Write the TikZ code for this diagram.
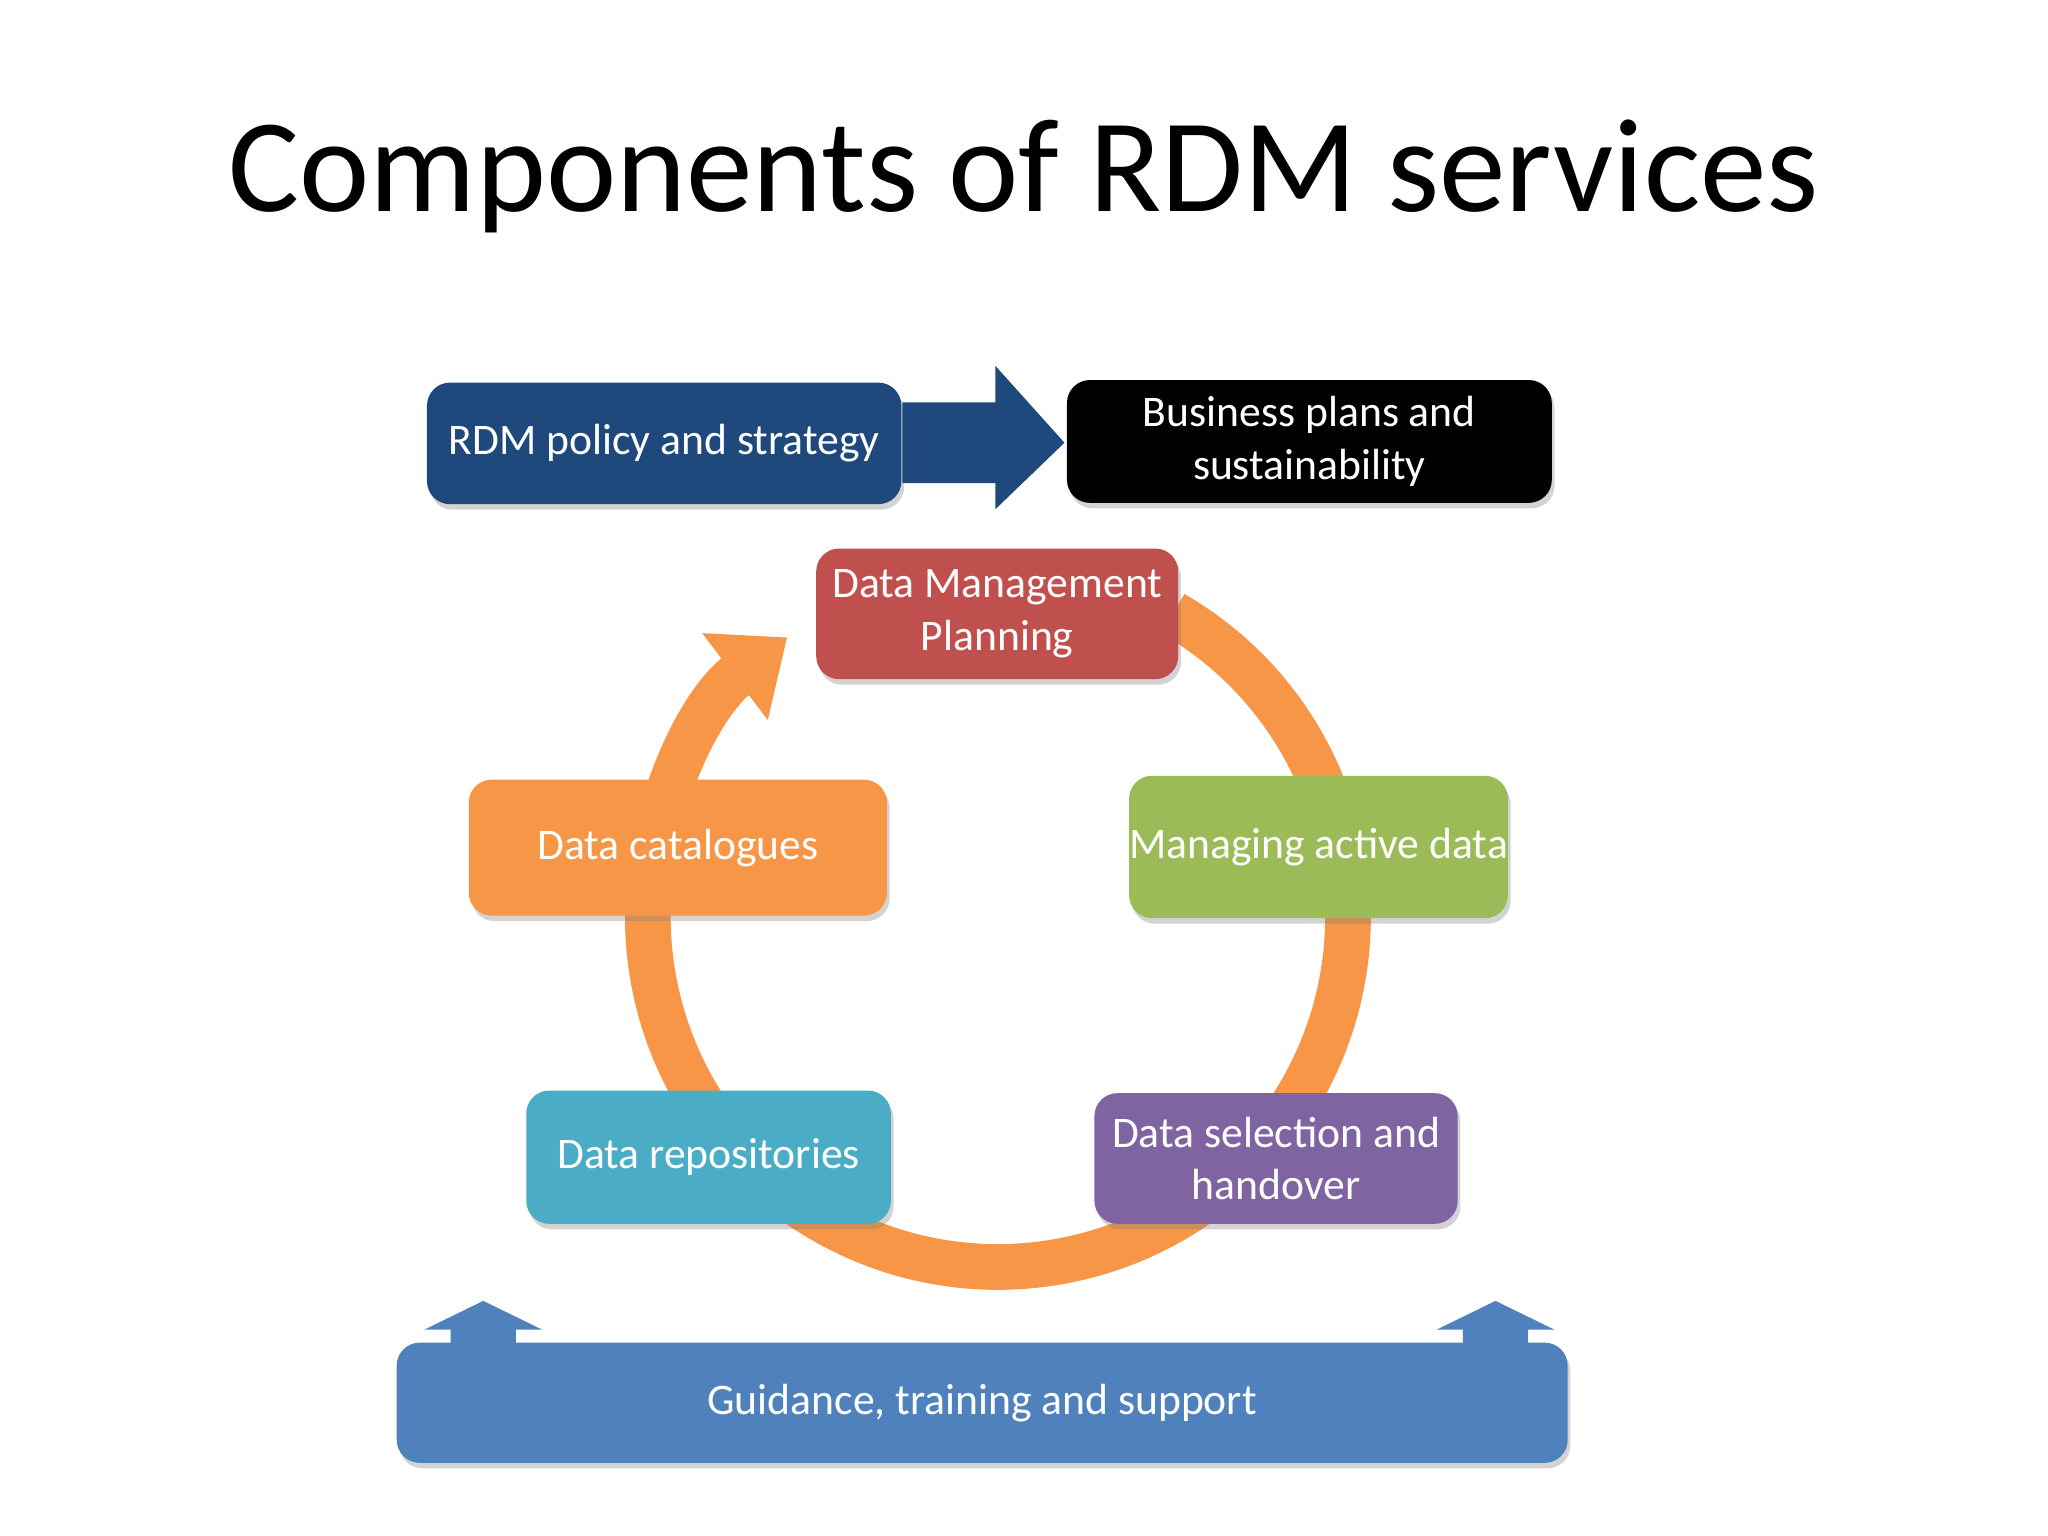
\documentclass[tikz,border=0pt]{standalone}
\usepackage{fontspec}
\setmainfont{Carlito}
\usetikzlibrary{arrows.meta,shadows}
\definecolor{navy}{HTML}{1F497D}
\definecolor{dmpred}{HTML}{C0504D}
\definecolor{actgreen}{HTML}{9BBB59}
\definecolor{catorange}{HTML}{F79646}
\definecolor{repoteal}{HTML}{4BACC6}
\definecolor{selpurple}{HTML}{8064A2}
\definecolor{guideblue}{HTML}{4F81BD}
\tikzset{
  box/.style={draw=none,rounded corners=5pt,text=white,align=center,
              font=\fontsize{9.5}{11.5}\selectfont,inner sep=0pt,
              drop shadow={shadow xshift=0.6pt,shadow yshift=-1.2pt,opacity=0.35}},
}
\begin{document}
\begin{tikzpicture}[x=0.01cm,y=0.01cm]
  \useasboundingbox (0,0) rectangle (1568,1176);
  \node (title) at (784,1041) {\fontsize{29}{34}\selectfont Components of RDM services};

  % cycle ring
  \coordinate (c) at (764,474);
  \draw[catorange,line width=0.35cm,-{Triangle[width=0.8cm,length=0.5cm]}]
    ([shift={(60:268)}]c) arc[start angle=60,end angle=-233,radius=268];

  % top row
  \node[box,fill=navy,minimum width=3.63cm,minimum height=0.93cm] (policy) at (508.5,836.5) {RDM policy and strategy};
  \node[box,fill=black,minimum width=3.71cm,minimum height=0.94cm] (business) at (1002.5,838) {Business plans and\\sustainability};
  \fill[navy] (policy.east |- 0,868) -- (762,868) -- (762,896) -- (815,837) -- (762,786) -- (762,806) -- (policy.east |- 0,806) -- cycle;

  % cycle boxes
  \node[box,fill=dmpred,minimum width=2.77cm,minimum height=1.0cm] (dmp) at (763.5,706) {Data Management\\Planning};
  \node[box,fill=actgreen,minimum width=2.79cm,minimum height=1.09cm] (active) at (1009.5,527.5) {Managing active data};
  \node[box,fill=catorange,minimum width=3.2cm,minimum height=1.04cm] (cat) at (519,527) {Data catalogues};
  \node[box,fill=repoteal,minimum width=2.79cm,minimum height=1.02cm] (repo) at (542.5,290) {Data repositories};
  \node[box,fill=selpurple,minimum width=2.78cm,minimum height=1.0cm] (sel) at (977,289) {Data selection and\\handover};

  % guidance bar with up arrows
  \foreach \ax in {370,1145}{
    \fill[guideblue] (\ax-25,130) -- (\ax-25,158) -- (\ax-45,158) -- (\ax,180) -- (\ax+45,158) -- (\ax+25,158) -- (\ax+25,130) -- cycle;
  }
  \node[box,fill=guideblue,minimum width=8.96cm,minimum height=0.92cm] (guide) at (752,102) {Guidance, training and support};
\end{tikzpicture}
\end{document}
